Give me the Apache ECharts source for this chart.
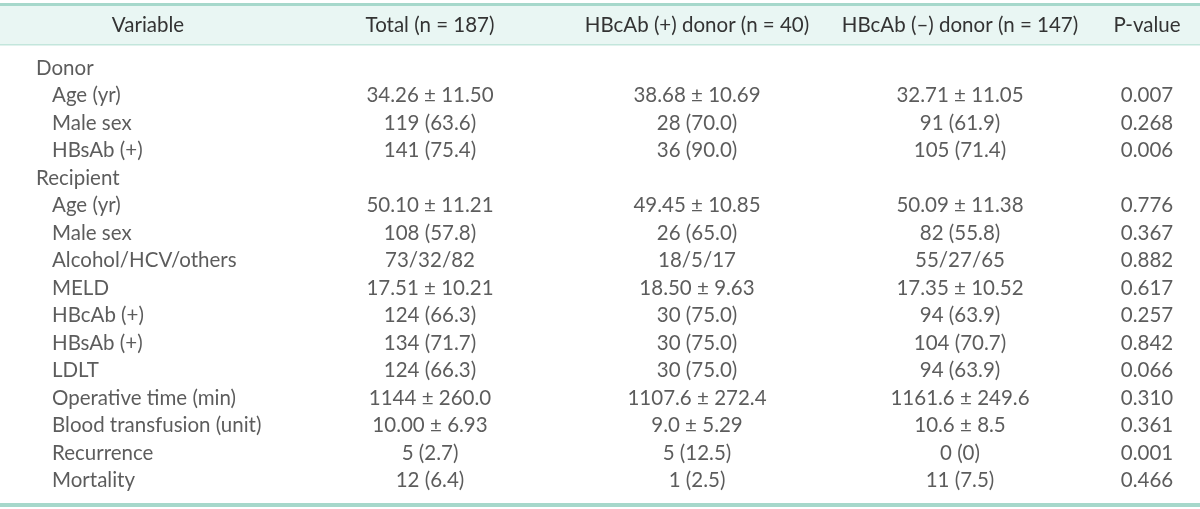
<!DOCTYPE html>
<html>
<head>
<meta charset="utf-8">
<script src="https://cdn.jsdelivr.net/npm/echarts@6/dist/echarts.min.js"></script>
<style>
html,body{margin:0;padding:0;background:#fff;}
#chart{width:1200px;height:509px;}
</style>
</head>
<body>
<div id="chart"></div>
<script>
const headers = ['Variable', 'Total (n = 187)', 'HBcAb (+) donor (n = 40)', 'HBcAb (–) donor (n = 147)', 'P-value'];
const variables = ['Donor', 'Age (yr)', 'Male sex', 'HBsAb (+)', 'Recipient', 'Age (yr)', 'Male sex', 'Alcohol/HCV/others', 'MELD', 'HBcAb (+)', 'HBsAb (+)', 'LDLT', 'Operative time (min)', 'Blood transfusion (unit)', 'Recurrence', 'Mortality'];
const groupRows = [true, false, false, false, true, false, false, false, false, false, false, false, false, false, false, false];
const totalCol = ['', '34.26 ± 11.50', '119 (63.6)', '141 (75.4)', '', '50.10 ± 11.21', '108 (57.8)', '73/32/82', '17.51 ± 10.21', '124 (66.3)', '134 (71.7)', '124 (66.3)', '1144 ± 260.0', '10.00 ± 6.93', '5 (2.7)', '12 (6.4)'];
const posCol = ['', '38.68 ± 10.69', '28 (70.0)', '36 (90.0)', '', '49.45 ± 10.85', '26 (65.0)', '18/5/17', '18.50 ± 9.63', '30 (75.0)', '30 (75.0)', '30 (75.0)', '1107.6 ± 272.4', '9.0 ± 5.29', '5 (12.5)', '1 (2.5)'];
const negCol = ['', '32.71 ± 11.05', '91 (61.9)', '105 (71.4)', '', '50.09 ± 11.38', '82 (55.8)', '55/27/65', '17.35 ± 10.52', '94 (63.9)', '104 (70.7)', '94 (63.9)', '1161.6 ± 249.6', '10.6 ± 8.5', '0 (0)', '11 (7.5)'];
const pCol = ['', '0.007', '0.268', '0.006', '', '0.776', '0.367', '0.882', '0.617', '0.257', '0.842', '0.066', '0.310', '0.361', '0.001', '0.466'];

// layout (column centres on a 0..1200 x scale)
const colCenters = [148, 430, 697, 960, 1147];
const groupIndent = 36, itemIndent = 52;
const FONT = 'Lato';
const FS = 20.5;
const TXT = '#333333';
const LINE = '#a6d8cb';

const chart = echarts.init(document.getElementById('chart'), null, {renderer: 'canvas'});
const rowIdx = variables.map((_, i) => i);

function colSeries(values, ci) {
  return {
    type: 'scatter', symbolSize: 0, silent: true,
    data: values.map((v, i) => ({value: [colCenters[ci], i], name: v})),
    label: {show: true, position: 'inside', formatter: p => p.name,
            color: TXT, fontFamily: FONT, fontSize: FS}
  };
}

const option = {
  animation: false,
  backgroundColor: '#fff',
  grid: {left: 0, right: 0, top: 54.25, bottom: 14.75},
  xAxis: {
    type: 'value', min: 0, max: 1200, position: 'top',
    axisLine: {show: false}, axisTick: {show: false}, splitLine: {show: false},
    axisLabel: {
      show: true, customValues: colCenters, margin: 29, verticalAlign: 'middle',
      color: TXT, fontFamily: FONT, fontSize: FS,
      formatter: v => headers[colCenters.indexOf(v)] ?? ''
    }
  },
  yAxis: {
    type: 'category', data: rowIdx, inverse: true, show: false
  },
  graphic: [
    {type: 'rect', shape: {x: 0, y: 6, width: 1200, height: 38}, style: {fill: '#e9f6f3'}, z: -10},
    {type: 'rect', shape: {x: 0, y: 3, width: 1200, height: 3}, style: {fill: LINE}, z: -9},
    {type: 'rect', shape: {x: 0, y: 44, width: 1200, height: 1.5}, style: {fill: '#c3e6dc'}, z: -9},
    {type: 'rect', shape: {x: 0, y: 503, width: 1200, height: 4}, style: {fill: LINE}, z: -9}
  ],
  series: [
    {
      type: 'scatter', symbolSize: 0, silent: true,
      data: variables.map((v, i) => ({value: [groupRows[i] ? groupIndent : itemIndent, i], name: v})),
      label: {show: true, position: 'right', distance: 0, formatter: p => p.name,
              color: TXT, fontFamily: FONT, fontSize: FS}
    },
    colSeries(totalCol, 1),
    colSeries(posCol, 2),
    colSeries(negCol, 3),
    colSeries(pCol, 4)
  ]
};
chart.setOption(option);
</script>
</body>
</html>
